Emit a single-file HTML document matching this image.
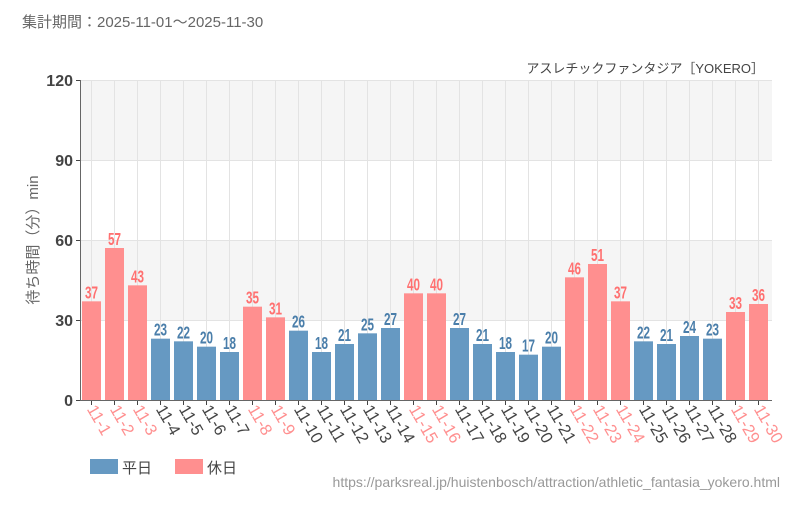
<!DOCTYPE html>
<html><head><meta charset="utf-8"><style>
body{margin:0;background:#fff;width:800px;height:500px;overflow:hidden}
text{font-family:"Liberation Sans","Noto Sans CJK JP",sans-serif}
</style></head><body>
<svg width="800" height="500" xmlns="http://www.w3.org/2000/svg">
<text x="22" y="27" font-size="15" fill="#666">集計期間：2025-11-01～2025-11-30</text>
<text x="764" y="73" font-size="13" fill="#444" text-anchor="end">アスレチックファンタジア［YOKERO］</text>
<rect x="80" y="80" width="692" height="80" fill="#f5f5f5"/>
<rect x="80" y="240" width="692" height="80" fill="#f5f5f5"/>
<g id="grid" stroke="#e3e3e3" stroke-width="1"></g>
<g id="bars"></g>
<line x1="80.5" y1="80" x2="80.5" y2="400" stroke="#666"/>
<line x1="80" y1="400.5" x2="772" y2="400.5" stroke="#666"/>
<g font-size="16" fill="#444" text-anchor="end" font-weight="bold">
<text x="73" y="86">120</text><text x="73" y="166">90</text><text x="73" y="246">60</text><text x="73" y="326">30</text><text x="73" y="406">0</text>
</g>
<g stroke="#444"><line x1="76" y1="80.5" x2="80" y2="80.5"/><line x1="76" y1="160.5" x2="80" y2="160.5"/><line x1="76" y1="240.5" x2="80" y2="240.5"/><line x1="76" y1="320.5" x2="80" y2="320.5"/><line x1="76" y1="400.5" x2="80" y2="400.5"/></g>
<text transform="translate(38,240) rotate(-90)" font-size="15" fill="#666" text-anchor="middle">待ち時間（分）min</text>
<rect x="90" y="459" width="28" height="15" fill="#6699c2"/>
<text x="122" y="473" font-size="15" fill="#444">平日</text>
<rect x="175" y="459" width="28" height="15" fill="#ff8f8f"/>
<text x="207" y="473" font-size="15" fill="#444">休日</text>
<text x="780" y="487" font-size="14" fill="#999" text-anchor="end">https://parksreal.jp/huistenbosch/attraction/athletic_fantasia_yokero.html</text>
</svg>
<script>
var v=[37,57,43,23,22,20,18,35,31,26,18,21,25,27,40,40,27,21,18,17,20,46,51,37,22,21,24,23,33,36];
var h=[1,1,1,0,0,0,0,1,1,0,0,0,0,0,1,1,0,0,0,0,0,1,1,1,0,0,0,0,1,1];
var ns="http://www.w3.org/2000/svg",g=document.getElementById('grid'),b=document.getElementById('bars');
function el(p,t,a,txt){var e=document.createElementNS(ns,t);for(var k in a)e.setAttribute(k,a[k]);if(txt!=null)e.textContent=txt;p.appendChild(e);return e;}
[80,160,240,320].forEach(function(y){el(g,'line',{x1:80,x2:772,y1:y+.5,y2:y+.5});});
for(var i=0;i<30;i++){var cx=91.5+23*i;el(g,'line',{x1:cx,x2:cx,y1:80,y2:400});
var y=400-v[i]*320/120,c=h[i]?'#ff8f8f':'#6699c2',tc=h[i]?'#ff7070':'#4a7eaa';
el(b,'rect',{x:cx-9.5,y:y,width:19,height:400-y,fill:c});
el(b,'text',{x:0,y:0,'font-size':18,'font-weight':'bold',fill:tc,'text-anchor':'middle',transform:'translate('+cx+','+(y-3)+') scale(0.65,1)'},v[i]);
el(b,'line',{x1:cx,x2:cx,y1:400,y2:405,stroke:'#444'});
el(b,'text',{x:0,y:0,'font-size':16.5,fill:h[i]?'#ff8f8f':'#444',transform:'translate('+(cx-5)+',409) rotate(60)'},'11-'+(i+1));}
</script>
</body></html>
